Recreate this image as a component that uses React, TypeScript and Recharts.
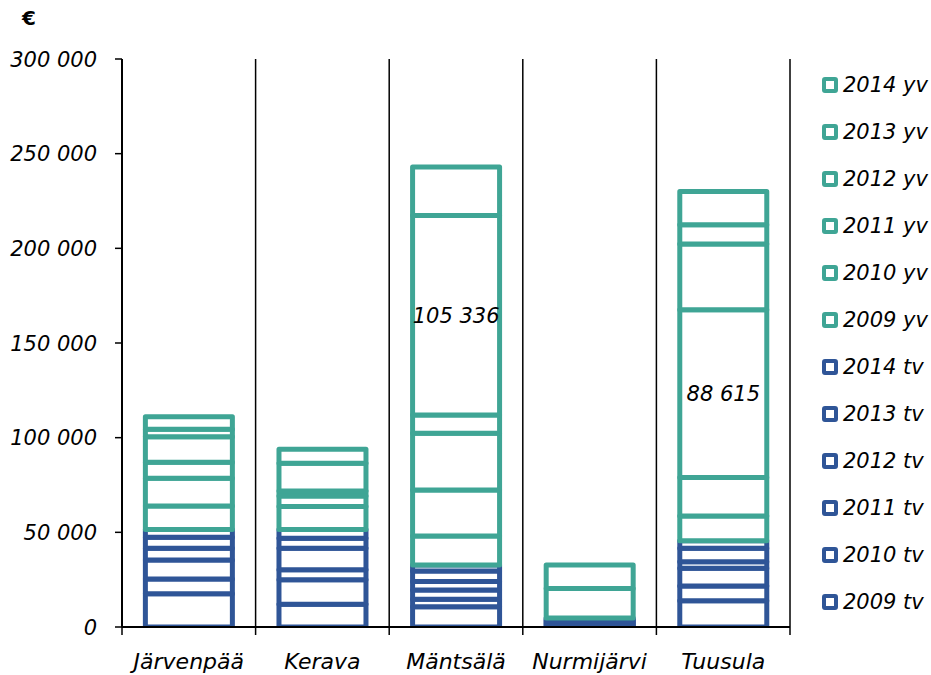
import React from "react";
import {
  BarChart,
  Bar,
  XAxis,
  YAxis,
  CartesianGrid,
  Legend,
  LabelList,
} from "recharts";

const categories = ["Järvenpää", "Kerava", "Mäntsälä", "Nurmijärvi", "Tuusula"];

// tv / yv segments per year (values in €)
const tv2009 = [17600, 12000, 10700, 800, 13900];
const tv2010 = [7800, 13000, 3900, 800, 7800];
const tv2011 = [10000, 5300, 4900, 800, 9300];
const tv2012 = [6200, 11300, 4500, 800, 3500];
const tv2013 = [5800, 5300, 5600, 800, 7100];
const tv2014 = [4100, 4600, 3100, 800, 4000];

const yv2009 = [12400, 12100, 15400, 15500, 13000];
const yv2010 = [14700, 5600, 24300, 12500, 20300];
const yv2011 = [8400, 2600, 29900, 0, 88615];
const yv2012 = [13500, 14700, 9700, 0, 34800];
const yv2013 = [3900, 7400, 105336, 0, 10100];
const yv2014 = [6700, 0, 25600, 0, 17600];

const yTicks = [0, 50000, 100000, 150000, 200000, 250000, 300000];

// segments that carry a value label
const labelled = [
  { key: "2013 yv", category: "Mäntsälä" },
  { key: "2011 yv", category: "Tuusula" },
];

const BLUE = "#2F5597";
const TEAL = "#3FA595";
const FONT = "'DejaVu Sans', sans-serif";

const seriesList = [
  { key: "2009 tv", values: tv2009, color: BLUE },
  { key: "2010 tv", values: tv2010, color: BLUE },
  { key: "2011 tv", values: tv2011, color: BLUE },
  { key: "2012 tv", values: tv2012, color: BLUE },
  { key: "2013 tv", values: tv2013, color: BLUE },
  { key: "2014 tv", values: tv2014, color: BLUE },
  { key: "2009 yv", values: yv2009, color: TEAL },
  { key: "2010 yv", values: yv2010, color: TEAL },
  { key: "2011 yv", values: yv2011, color: TEAL },
  { key: "2012 yv", values: yv2012, color: TEAL },
  { key: "2013 yv", values: yv2013, color: TEAL },
  { key: "2014 yv", values: yv2014, color: TEAL },
];

const data = categories.map((name, i) => {
  const row: any = { name };
  seriesList.forEach((s) => (row[s.key] = s.values[i]));
  return row;
});

const fmt = (v: number) =>
  String(v).replace(/\B(?=(\d{3})+(?!\d))/g, " ");

const YTick = ({ x, y, payload }: any) => (
  <text
    x={x}
    y={y}
    dy="0.36em"
    textAnchor="end"
    fontFamily={FONT}
    fontStyle="italic"
    fontSize={21}
    fill="#000"
  >
    {fmt(payload.value)}
  </text>
);

const XTick = ({ x, y, payload, index, visibleTicksCount }: any) => {
  const half = payload.offset || 66.8;
  const axisY = y - 26;
  const last = index === (visibleTicksCount || categories.length) - 1;
  return (
    <g>
      <line x1={x - half} x2={x - half} y1={axisY} y2={axisY + 8} stroke="#000" strokeWidth={1.5} />
      {last && (
        <line x1={x + half} x2={x + half} y1={axisY} y2={axisY + 8} stroke="#000" strokeWidth={1.5} />
      )}
      <text
        x={x}
        y={y}
        dy="0.71em"
        textAnchor="middle"
        fontFamily={FONT}
        fontStyle="italic"
        fontSize={22}
        fill="#000"
      >
        {payload.value}
      </text>
    </g>
  );
};

// legend listed top-down in reverse stacking order
const LegendContent = () => {
  const items = [...seriesList].reverse();
  return (
    <div>
      {items.map((it) => (
        <div
          key={it.key}
          style={{ display: "flex", alignItems: "center", height: 47 }}
        >
          <span
            style={{
              flex: "none",
              width: 16,
              height: 16,
              boxSizing: "border-box",
              border: `4px solid ${it.color}`,
              borderRadius: 3,
              marginRight: 5,
              background: "#fff",
            }}
          />
          <span
            style={{
              fontFamily: FONT,
              fontStyle: "italic",
              fontSize: 21,
              color: "#000",
              whiteSpace: "nowrap",
            }}
          >
            {it.key}
          </span>
        </div>
      ))}
    </div>
  );
};

const labelValue = (key: string) => (entry: any) => {
  const p = entry && entry.payload;
  if (!p) return null;
  const hit = labelled.some((l) => l.key === key && l.category === p.name);
  return hit ? p[key] : null;
};

const SegmentLabel = (props: any) => {
  const { x, y, width, height, value } = props;
  if (value === null || value === undefined || value === "") return null;
  return (
    <text
      x={x + width / 2}
      y={y + height / 2}
      dy="0.36em"
      textAnchor="middle"
      fontFamily={FONT}
      fontStyle="italic"
      fontSize={21}
      fill="#000"
    >
      {fmt(Number(value))}
    </text>
  );
};

export default function App() {
  return (
    <div style={{ position: "absolute", left: 0, top: 0, width: 931, height: 675 }}>
      <div
        style={{
          position: "absolute",
          left: 22,
          top: 6,
          fontFamily: FONT,
          fontWeight: "bold",
          fontSize: 20,
          lineHeight: "24px",
        }}
      >
        €
      </div>
      <BarChart
        width={931}
        height={675}
        data={data}
        margin={{ top: 59, right: 24, bottom: 8, left: 0 }}
        barCategoryGap="17.5%"
      >
        <CartesianGrid
          horizontal={false}
          stroke="#000"
          strokeWidth={1.5}
          verticalCoordinatesGenerator={({ offset }: any) =>
            categories
              .concat([""])
              .map((_, i) => offset.left + (i * offset.width) / categories.length)
          }
        />
        <XAxis
          dataKey="name"
          height={40}
          tickLine={false}
          tickSize={8}
          tickMargin={18}
          tick={<XTick />}
          axisLine={{ stroke: "#000", strokeWidth: 2 }}
          interval={0}
        />
        <YAxis
          width={122}
          domain={[0, 300000]}
          ticks={yTicks}
          tickSize={7}
          tickMargin={18}
          tick={<YTick />}
          axisLine={{ stroke: "#000", strokeWidth: 2 }}
          tickLine={{ stroke: "#000", strokeWidth: 1.5 }}
          allowDataOverflow
        />
        <Legend
          layout="vertical"
          align="right"
          verticalAlign="top"
          width={117}
          content={<LegendContent />}
          wrapperStyle={{ left: 822, top: 61, right: "auto" }}
        />
        {seriesList.map((s) => (
          <Bar
            key={s.key}
            dataKey={s.key}
            name={s.key}
            stackId="a"
            fill="#fff"
            stroke={s.color}
            strokeWidth={5}
            strokeLinejoin="round"
            isAnimationActive={false}
          >
            <LabelList valueAccessor={labelValue(s.key)} content={<SegmentLabel />} />
          </Bar>
        ))}
      </BarChart>
    </div>
  );
}
